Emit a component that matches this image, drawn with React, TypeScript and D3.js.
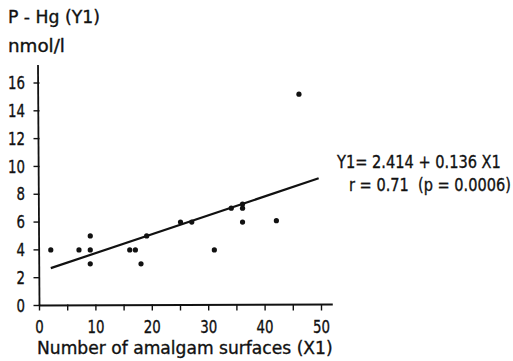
import React, { useLayoutEffect, useRef, useState } from "react";
import * as d3 from "d3";

const amalgamSurfaces = [2, 7, 9, 9, 9, 16, 17, 18, 19, 25, 27, 31, 34, 36, 36, 36, 42, 46];
const plasmaHg = [4, 4, 5, 4, 3, 4, 4, 3, 5, 6, 6, 4, 7, 7.3, 7, 6, 6.1, 15.2];
const xTicks = [0, 5, 10, 15, 20, 25, 30, 35, 40, 45, 50];
const xTickLabels = [0, 10, 20, 30, 40, 50];
const yTicks = [0, 2, 4, 6, 8, 10, 12, 14, 16];
const intercept = 2.414;
const slope = 0.136;
const lineRange = [2, 49.5];
const yTitle = "P - Hg (Y1)";
const yUnit = "nmol/l";
const xTitle = "Number of amalgam surfaces (X1)";
const eqLine1 = "Y1= 2.414 + 0.136 X1";
const eqLine2 = "r = 0.71  (p = 0.0006)";

const W = 513;
const H = 361;
const FONT = "'DejaVu Sans', sans-serif";
const FS = 17;

type FitProps = {
  x: number;
  y: number;
  width: number;
  anchor?: "start" | "middle" | "end";
  dy?: string;
  children: React.ReactNode;
};

function FitText({ x, y, width, anchor = "start", dy, children }: FitProps) {
  const ref = useRef<SVGTextElement>(null);
  const [sx, setSx] = useState(1);
  useLayoutEffect(() => {
    if (ref.current) {
      const w = ref.current.getComputedTextLength();
      if (w > 0) setSx(width / w);
    }
  }, [width]);
  return (
    <text
      ref={ref}
      transform={`translate(${x},${y}) scale(${sx},1)`}
      textAnchor={anchor}
      dy={dy}
      fontSize={FS}
      stroke="#111"
      strokeWidth={0.35}
      style={{ whiteSpace: "pre" }}
    >
      {children}
    </text>
  );
}

export default function App() {
  const x = d3.scaleLinear().domain([0, 50]).range([39.5, 321.5]);
  const y = d3.scaleLinear().domain([0, 16]).range([305.5, 83]);
  const x0 = x(0);
  const y0 = y(0);
  const line = d3
    .line<number>()
    .x((d) => x(d))
    .y((d) => y(intercept + slope * d));

  return (
    <svg
      width={W}
      height={H}
      style={{ position: "fixed", left: 0, top: 0, background: "#fff" }}
      fontFamily={FONT}
      fill="#111"
    >
      <rect width={W} height={H} fill="#fff" />
      {/* titles */}
      <FitText x={8} y={23} width={92}>{yTitle}</FitText>
      <FitText x={8} y={52} width={57}>{yUnit}</FitText>

      {/* axes */}
      <line x1={x0 - 1.5} y1={y(17.3)} x2={x0} y2={y0} stroke="#111" strokeWidth={1.8} />
      <line x1={x0} y1={y0} x2={x(52)} y2={y0 - 1} stroke="#111" strokeWidth={1.8} />

      {yTicks.map((t) => (
        <g key={"yt" + t}>
          <line x1={x0 - 6} x2={x0} y1={y(t)} y2={y(t)} stroke="#111" strokeWidth={1.4} />
          <FitText x={25} y={y(t)} dy="0.36em" anchor="end" width={t >= 10 ? 17 : 8.5}>
            {t}
          </FitText>
        </g>
      ))}

      {xTicks.map((t) => (
        <line key={"xt" + t} x1={x(t)} x2={x(t)} y1={y0 - 1} y2={y0 + 5} stroke="#111" strokeWidth={1.4} />
      ))}
      {xTickLabels.map((t) => (
        <FitText key={"xl" + t} x={x(t)} y={333} anchor="middle" width={t >= 10 ? 17 : 8.5}>
          {t}
        </FitText>
      ))}
      <FitText x={37} y={354} width={296}>{xTitle}</FitText>

      {/* regression line */}
      <path d={line(lineRange) || ""} fill="none" stroke="#111" strokeWidth={2.2} />

      {/* points */}
      {amalgamSurfaces.map((v, i) => (
        <circle key={"p" + i} cx={x(v)} cy={y(plasmaHg[i])} r={2.6} fill="#111" />
      ))}

      {/* equation */}
      <FitText x={337} y={168} width={164}>{eqLine1}</FitText>
      <FitText x={349} y={191} width={162}>{eqLine2}</FitText>
    </svg>
  );
}
